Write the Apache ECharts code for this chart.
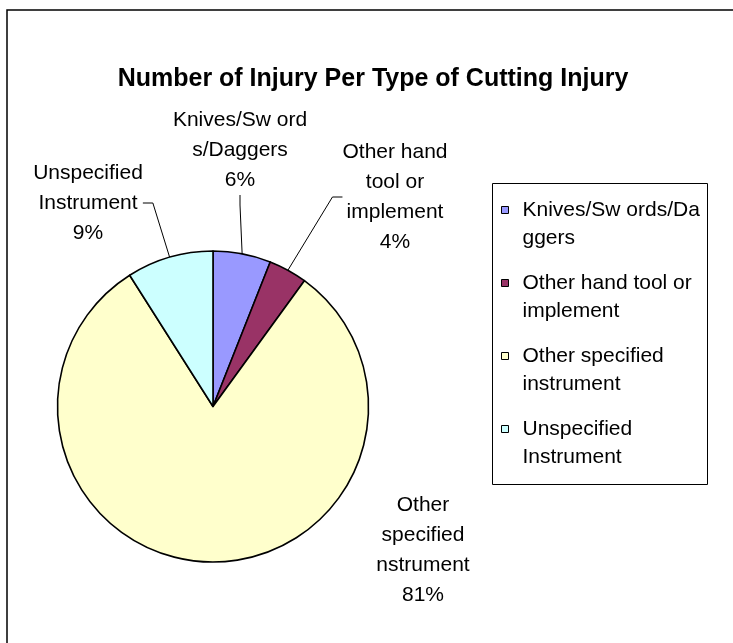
<!DOCTYPE html>
<html>
<head>
<meta charset="utf-8">
<title>Number of Injury Per Type of Cutting Injury</title>
<script src="https://cdn.jsdelivr.net/npm/echarts@6/dist/echarts.min.js"></script>
<style>
  html, body { margin: 0; padding: 0; background: #fff; }
  #main { width: 733px; height: 643px; }
</style>
</head>
<body>
<div id="main"></div>
<script>
// data
const categories = ['Knives/Swords/Daggers', 'Other hand tool or implement', 'Other specified instrument', 'Unspecified Instrument'];
const values = [6, 4, 81, 9];
const colors = ['#9999FF', '#993366', '#FFFFCC', '#CCFFFF'];
// label text as it wraps in the original
const labelNames = ['Knives/Sw ord\ns/Daggers', 'Other hand\ntool or\nimplement', 'Other\nspecified\nnstrument', 'Unspecified\nInstrument'];
const legendNames = ['Knives/Sw ords/Da\nggers', 'Other hand tool or\nimplement', 'Other specified\ninstrument', 'Unspecified\nInstrument'];

// where each data label block is centred
const labelSpots = [[240, 150], [395, 197], [423, 550], [88, 203]];

const FONT = '"Liberation Sans", Arial, sans-serif';

const chart = echarts.init(document.getElementById('main'), null, { renderer: 'canvas' });

chart.setOption({
  animation: false,
  backgroundColor: '#fff',
  color: colors,
  title: {
    text: 'Number of Injury Per Type of Cutting Injury',
    left: 368,
    top: 62,
    textAlign: 'center',
    textStyle: { fontFamily: FONT, fontSize: 25, fontWeight: 'bold', color: '#000' }
  },
  graphic: [
    {  // chart area border, runs off the right and bottom
      type: 'rect', z: 0, silent: true,
      shape: { x: 7, y: 10, width: 900, height: 900 },
      style: { fill: 'none', stroke: '#000', lineWidth: 1.5 }
    },
    {  // legend box
      type: 'rect', z: 0, silent: true,
      shape: { x: 492.5, y: 183.5, width: 215, height: 301 },
      style: { fill: 'none', stroke: '#000', lineWidth: 1 }
    }
  ],
  legend: {
    orient: 'vertical',
    left: 501,
    top: 196,
    padding: 0,
    itemGap: 17,
    itemWidth: 7,
    itemHeight: 35,
    // square sits at the top so it lines up with the first text line
    icon: 'path://M0,0L7,0L7,7L0,7Z M0,35L0,35',
    itemStyle: { borderColor: '#000', borderWidth: 1 },
    data: categories,
    formatter: name => legendNames[categories.indexOf(name)],
    textStyle: {
      fontFamily: FONT, fontSize: 21, lineHeight: 28, color: '#000',
      padding: [0, 0, 0, 9]
    }
  },
  series: [{
    type: 'pie',
    center: [213, 406.5],
    radius: 155.5,
    startAngle: 90,
    clockwise: true,
    percentPrecision: 0,
    avoidLabelOverlap: false,
    emphasis: { disabled: true },
    itemStyle: { borderColor: '#000', borderWidth: 1.6 },
    label: {
      show: true,
      position: 'outside',
      formatter: p => labelNames[p.dataIndex] + '\n' + p.percent + '%',
      fontFamily: FONT, fontSize: 21, lineHeight: 30, color: '#000', align: 'center'
    },
    labelLine: {
      show: true, length: 0, length2: 10,
      lineStyle: { color: '#000', width: 1 }
    },
    labelLayout: p => ({
      x: labelSpots[p.dataIndex][0],
      y: labelSpots[p.dataIndex][1],
      align: 'center',
      verticalAlign: 'middle'
    }),
    data: categories.map((c, i) => ({
      name: c,
      value: values[i],
      labelLine: { show: i !== 2 }
    }))
  }]
});
</script>
</body>
</html>
